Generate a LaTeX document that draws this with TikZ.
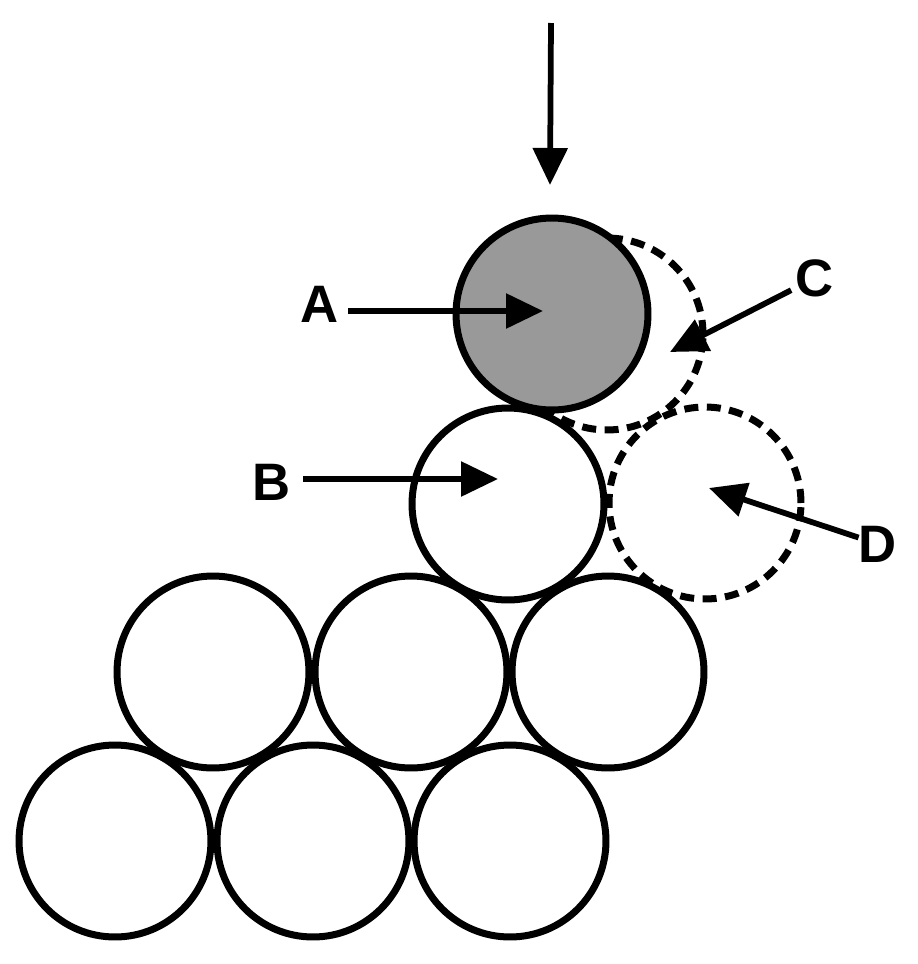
\documentclass[tikz,border=0pt]{standalone}
\usepackage{fontspec}
\setmainfont{Liberation Sans}
\usetikzlibrary{arrows.meta}
\definecolor{ballgray}{gray}{0.6}

\begin{document}
\begin{tikzpicture}[x=0.02cm,y=-0.02cm,>={Triangle[length=0.74cm,width=0.68cm]},font=\fontsize{30}{36}\selectfont\bfseries]
\tikzstyle{ball}=[circle,draw,line width=0.14cm,minimum size=3.84cm,inner sep=0pt]
\tikzstyle{ghost}=[ball,dash pattern=on 0.28cm off 0.17cm]
\tikzstyle{lbl}=[inner sep=0pt]
\tikzstyle{pointer}=[line width=0.115cm,->]
\useasboundingbox (0,0) rectangle (917,964);
% the heap
\node[ball] (r0) at (115,841) {}; \node[ball] (r1) at (313,841) {}; \node[ball] (r2) at (510,841) {};
\node[ball] (s0) at (213,672) {}; \node[ball] (s1) at (411,672) {}; \node[ball] (s2) at (608,672) {};
\node[ball] (b) at (508,504) {};
% later positions
\node[ghost] (c) at (607,334) {};
\node[ghost] (d) at (705,503) {};
\node[ball,fill=ballgray] (a) at (552,314) {};
% labels
\node[lbl] (la) at (320,304) {A}; \node[lbl] (lb) at (272,482) {B};
\node[lbl] (lc) at (815,278) {C}; \node[lbl] (ld) at (878,544) {D};
\coordinate (ta) at (543,311); \coordinate (tb) at (498,479);
\coordinate (tc) at (670,352); \coordinate (td) at (709,488);
\coordinate (push) at (551,23); \coordinate (drop) at (550,185);
\draw[pointer] (push) -- (drop);
\draw[pointer,shorten <=0.18cm] (la.east |- ta) -- (ta);
\draw[pointer,shorten <=0.24cm] (lb.east |- tb) -- (tb);
\draw[pointer,shorten <=0.1cm] (lc) -- (tc);
\draw[pointer] (ld) -- (td);
\end{tikzpicture}
\end{document}
